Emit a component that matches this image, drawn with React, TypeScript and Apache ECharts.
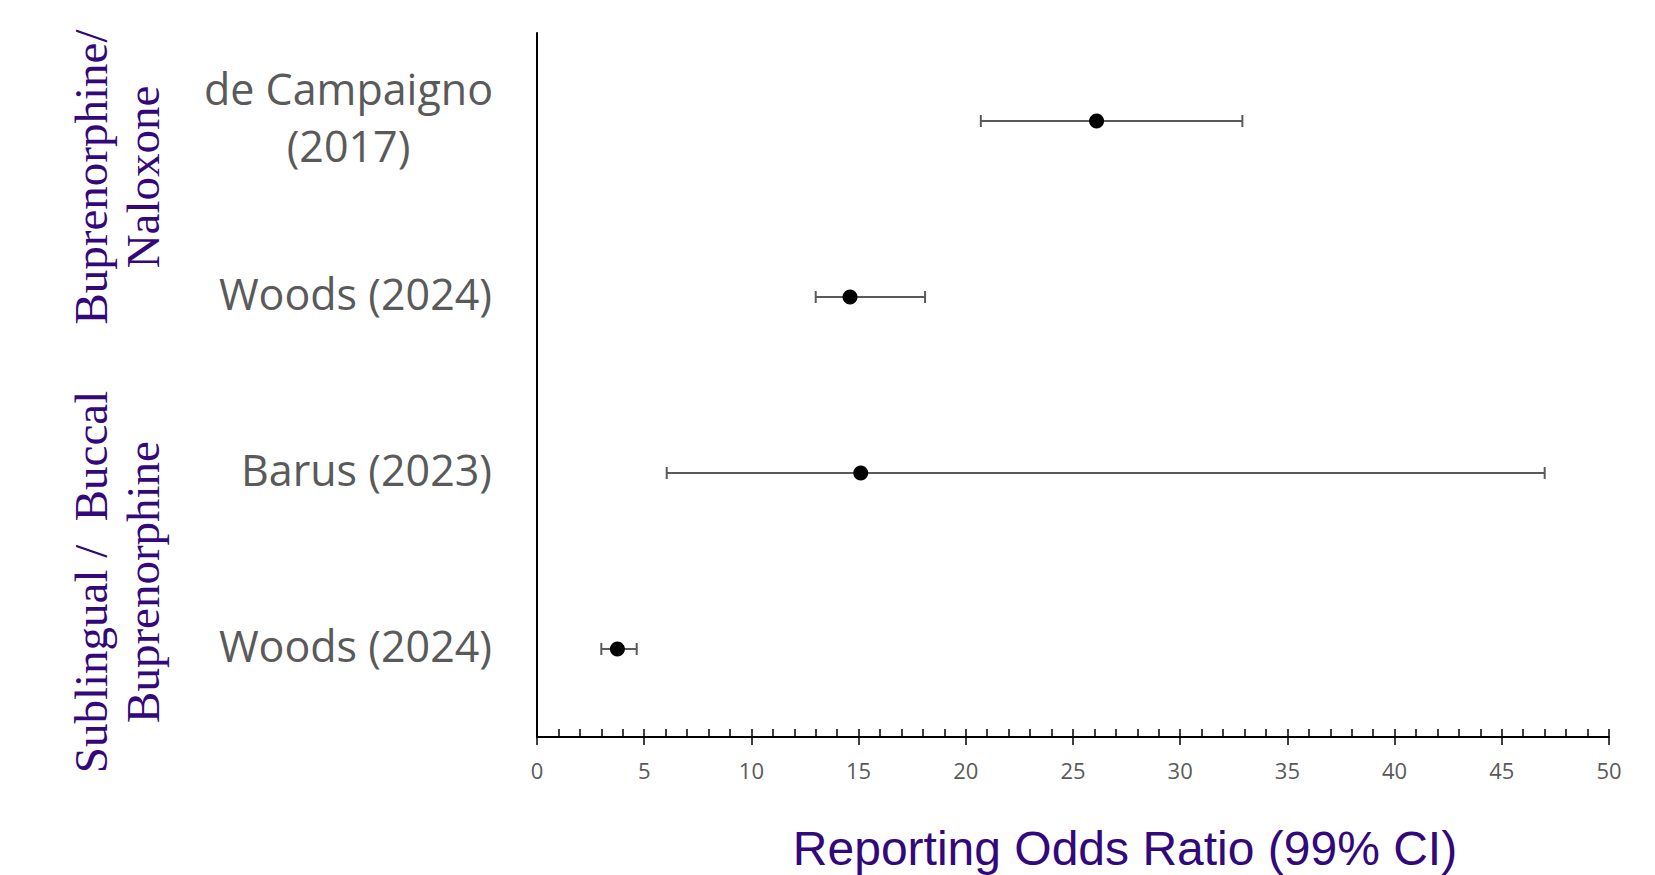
import React, { useEffect, useRef } from "react";
import * as echarts from "echarts";

const studies = ["de Campaigno\n(2017)", "Woods (2024)", "Barus (2023)", "Woods (2024) "];
const pointValues = [26.1, 14.6, 15.1, 3.75];
const lowerCI = [20.7, 13.0, 6.05, 3.0];
const upperCI = [32.9, 18.1, 47.0, 4.65];
const groupLabels = [
  ["Buprenorphine/", "Naloxone"],
  ["Sublingual /  Buccal", "Buprenorphine"],
];
const xTicks = { min: 0, max: 50, interval: 5 };
const axisTitle = "Reporting Odds Ratio (99% CI)";

const PURPLE = "#33087a";
const GRAY = "#5a5a5a";

export default function App() {
  const ref = useRef<HTMLDivElement>(null);
  useEffect(() => {
    document.body.style.margin = "0";
    const chart = echarts.init(ref.current!, undefined, { renderer: "svg" });
    const gridLeft = 537;
    const gridTop = 33;
    const gridH = 704;
    const gridW = 1072;

    const groupGraphics: any[] = [];
    const groupCenters = [177, 582];
    groupLabels.forEach((lines, gi) => {
      lines.forEach((line, li) => {
        groupGraphics.push({
          type: "text",
          x: li === 0 ? 91 : 143,
          y: groupCenters[gi],
          rotation: Math.PI / 2,
          style: {
            text: line,
            fill: PURPLE,
            font: '47px "Liberation Serif", "Times New Roman", serif',
            textAlign: "center",
            textVerticalAlign: "middle",
          },
        });
      });
    });

    chart.setOption({
      animation: false,
      grid: { left: gridLeft, top: gridTop, width: gridW, height: gridH, containLabel: false },
      xAxis: [
        {
          type: "value",
          min: xTicks.min,
          max: xTicks.max,
          interval: xTicks.interval,
          position: "bottom",
          axisLine: { show: true, lineStyle: { color: "#000", width: 2 } },
          axisTick: { show: true, inside: true, length: 8, lineStyle: { color: "#000", width: 1.5 } },
          minorTick: { show: true, splitNumber: 5, length: 8, lineStyle: { color: "#000", width: 1.5 } },
          splitLine: { show: false },
          axisLabel: {
            color: GRAY,
            fontFamily: '"Open Sans", "Noto Sans", sans-serif',
            fontSize: 22,
            margin: 22,
          },
        },
        {
          type: "value",
          min: xTicks.min,
          max: xTicks.max,
          interval: xTicks.interval,
          position: "bottom",
          axisLine: { show: false },
          axisTick: { show: true, inside: false, length: 8, lineStyle: { color: "#000", width: 1.5 } },
          splitLine: { show: false },
          axisLabel: { show: false },
        },
      ],
      yAxis: {
        type: "category",
        data: studies,
        inverse: true,
        axisLine: { show: true, lineStyle: { color: "#000", width: 2 } },
        axisTick: { show: false },
        splitLine: { show: false },
        axisLabel: {
          color: GRAY,
          fontFamily: '"Open Sans", "Noto Sans", sans-serif',
          fontSize: 43,
          margin: 45,
          lineHeight: 57,
          padding: [0, 0, 8, 0],
          formatter: (v: string) => {
            if (v.indexOf("\n") >= 0) {
              return v
                .split("\n")
                .map((s) => "{c|" + s + "}")
                .join("\n");
            }
            return v.trim();
          },
          rich: {
            c: {
              width: 287,
              align: "center",
              color: GRAY,
              fontFamily: '"Open Sans", "Noto Sans", sans-serif',
              fontSize: 43,
              lineHeight: 57,
            },
          },
        },
      },
      series: [
        {
          type: "custom",
          xAxisIndex: 0,
          yAxisIndex: 0,
          encode: { x: [0, 1], y: 2 },
          data: studies.map((s, i) => [lowerCI[i], upperCI[i], i]),
          renderItem: (params: any, api: any) => {
            const y = api.value(2);
            const p1 = api.coord([api.value(0), y]);
            const p2 = api.coord([api.value(1), y]);
            const h = 6;
            const style = { stroke: "#5a5a5a", lineWidth: 2 };
            return {
              type: "group",
              children: [
                { type: "line", shape: { x1: p1[0], y1: p1[1], x2: p2[0], y2: p2[1] }, style },
                { type: "line", shape: { x1: p1[0], y1: p1[1] - h, x2: p1[0], y2: p1[1] + h }, style },
                { type: "line", shape: { x1: p2[0], y1: p2[1] - h, x2: p2[0], y2: p2[1] + h }, style },
              ],
            };
          },
          z: 2,
        },
        {
          type: "scatter",
          xAxisIndex: 0,
          yAxisIndex: 0,
          symbol: "circle",
          symbolSize: 15,
          itemStyle: { color: "#000", opacity: 1 },
          data: studies.map((s, i) => [pointValues[i], i]),
          z: 3,
        },
      ],
      graphic: [
        ...groupGraphics,
        {
          type: "text",
          x: 1125,
          y: 848,
          style: {
            text: axisTitle,
            fill: PURPLE,
            font: '48px "Liberation Sans", Arial, sans-serif',
            textAlign: "center",
            textVerticalAlign: "middle",
          },
        },
      ],
    });
    return () => chart.dispose();
  }, []);
  return <div ref={ref} style={{ width: 1655, height: 875, overflow: "hidden" }} />;
}
